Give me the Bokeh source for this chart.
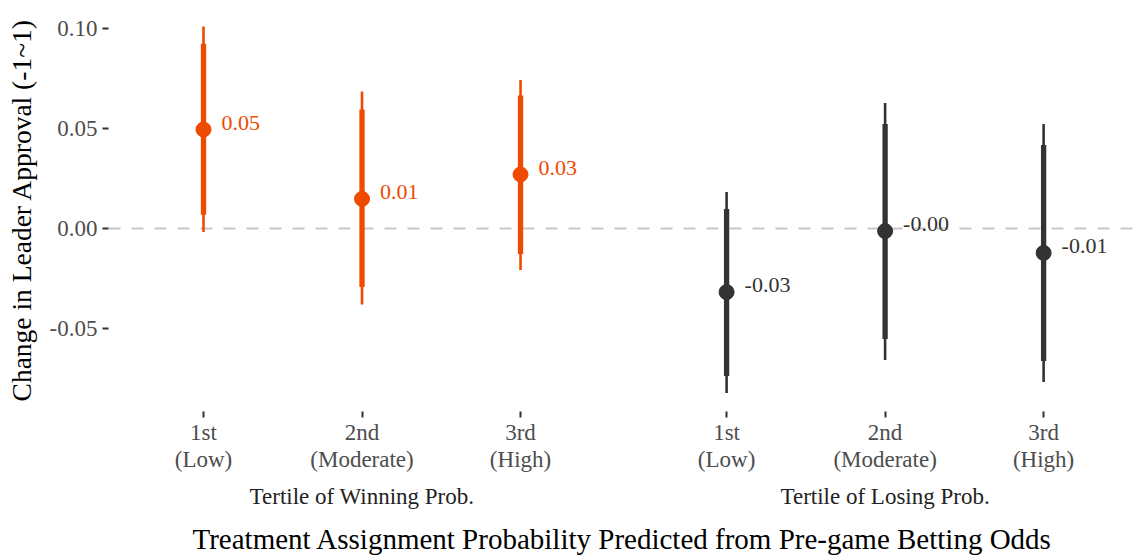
from bokeh.plotting import figure
from bokeh.models import ColumnDataSource, FixedTicker, Span, LinearAxis
from bokeh.embed import file_html
from bokeh.resources import INLINE

# ---- data ----
tertiles = ["1st\n(Low)", "2nd\n(Moderate)", "3rd\n(High)"]
groups = ["Tertile of Winning Prob.", "Tertile of Losing Prob."]

win_est = [0.0495, 0.0148, 0.0270]
win_lo90 = [0.0069, -0.0293, -0.0127]
win_hi90 = [0.0924, 0.0595, 0.0665]
win_lo95 = [-0.0018, -0.0380, -0.0207]
win_hi95 = [0.1010, 0.0685, 0.0743]

lose_est = [-0.0318, -0.0013, -0.0122]
lose_lo90 = [-0.0738, -0.0552, -0.0663]
lose_hi90 = [0.0098, 0.0523, 0.0418]
lose_lo95 = [-0.0823, -0.0657, -0.0768]
lose_hi95 = [0.0182, 0.0627, 0.0523]

ORANGE = "#EE4A00"
DARK = "#333333"
FONT = "Liberation Serif"

# positions: three tertiles per group, groups separated by a wider gap
GROUP_GAP = 1.3
win_x = [1.0, 2.0, 3.0]
lose_x = [round(x + 2 + GROUP_GAP, 6) for x in win_x]

p = figure(width=1136, height=558, x_range=(0.4006, 6.886), y_range=(-0.0915, 0.110),
           output_backend="svg", toolbar_location=None,
           min_border_left=108, min_border_right=0, min_border_top=8, min_border_bottom=147)
p.background_fill_color = "white"
p.border_fill_color = "white"
p.outline_line_color = None
p.xgrid.grid_line_color = None
p.ygrid.grid_line_color = None

# zero reference line
p.add_layout(Span(location=0, dimension="width", line_color="#C8C8C8",
                  line_width=2, line_dash="12 11", level="underlay"))

for xs, est, lo90, hi90, lo95, hi95, col in [
        (win_x, win_est, win_lo90, win_hi90, win_lo95, win_hi95, ORANGE),
        (lose_x, lose_est, lose_lo90, lose_hi90, lose_lo95, lose_hi95, DARK)]:
    src = ColumnDataSource(dict(x=xs, est=est, lo90=lo90, hi90=hi90, lo95=lo95, hi95=hi95,
                                lab=[f"{v:.2f}" for v in est]))
    p.segment(x0="x", y0="lo95", x1="x", y1="hi95", source=src, line_color=col, line_width=2.6)
    p.segment(x0="x", y0="lo90", x1="x", y1="hi90", source=src, line_color=col, line_width=5.3)
    p.scatter(x="x", y="est", source=src, size=15, fill_color=col, line_color=col)
    p.text(x="x", y="est", text="lab", source=src, x_offset=18, y_offset=-7,
           text_color=col, text_font=FONT, text_font_size="22px",
           text_baseline="middle", text_align="left")

# axes
all_x = win_x + lose_x
p.xaxis.ticker = FixedTicker(ticks=all_x)
p.xaxis.major_label_overrides = {x: t for x, t in zip(all_x, tertiles + tertiles)}
p.yaxis.ticker = FixedTicker(ticks=[-0.05, 0.0, 0.05, 0.10])
p.yaxis.major_label_overrides = {-0.05: "-0.05", 0.0: "0.00", 0.05: "0.05", 0.10: "0.10"}

# second bottom axis carrying the group labels and the overall title
gaxis = LinearAxis(ticker=FixedTicker(ticks=[win_x[1], lose_x[1]]),
                   major_label_overrides={win_x[1]: groups[0], lose_x[1]: groups[1]})
p.add_layout(gaxis, "below")

for ax in (p.xaxis[0], p.yaxis[0], gaxis):
    ax.axis_line_color = None
    ax.major_tick_line_color = DARK
    ax.major_tick_line_width = 2
    ax.major_tick_out = 6
    ax.major_tick_in = 0
    ax.minor_tick_line_color = None
    ax.major_label_text_font = FONT
    ax.major_label_text_font_size = "23px"
    ax.major_label_text_color = "#4D4D4D"
    ax.major_label_standoff = 5
    ax.axis_label_text_font = FONT
    ax.axis_label_text_font_style = "normal"
    ax.axis_label_text_color = "black"

p.xaxis[0].major_label_text_line_height = 1.08
p.xaxis[0].major_label_standoff = 2

gaxis.major_tick_line_color = None
gaxis.major_tick_out = 0
gaxis.major_label_standoff = 9
gaxis.major_label_text_color = "#222222"

p.yaxis.axis_label = "Change in Leader Approval (-1~1)"
p.yaxis.axis_label_text_font_size = "27.5px"
p.yaxis.axis_label_standoff = 10

gaxis.axis_label = "Treatment Assignment Probability Predicted from Pre-game Betting Odds"
gaxis.axis_label_text_font_size = "29px"
gaxis.axis_label_standoff = 11

open("out.html", "w").write(file_html(p, INLINE))
